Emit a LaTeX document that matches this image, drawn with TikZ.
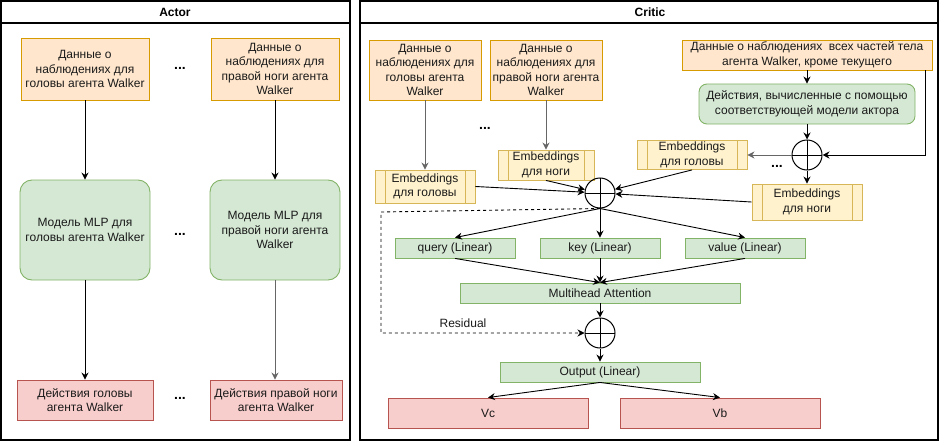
\documentclass[tikz,border=0pt]{standalone}
\usepackage{fontspec}
\setmainfont{Liberation Sans}
\usetikzlibrary{arrows.meta,calc}
\definecolor{obsfill}{HTML}{FFE6CC}\definecolor{obsdraw}{HTML}{D79B00}
\definecolor{grnfill}{HTML}{D5E8D4}\definecolor{grndraw}{HTML}{82B366}
\definecolor{redfill}{HTML}{F8CECC}\definecolor{reddraw}{HTML}{B85450}
\definecolor{yelfill}{HTML}{FFF2CC}\definecolor{yeldraw}{HTML}{D6B656}
\definecolor{txtcol}{HTML}{1A1A1A}
\definecolor{garrow}{HTML}{666666}
\tikzset{
  base/.style={draw, inner sep=0pt, align=center, font=\fontsize{12}{14.5}\selectfont, text=txtcol, line width=0.9pt},
  obsbox/.style={base, fill=obsfill, draw=obsdraw},
  grnbox/.style={base, fill=grnfill, draw=grndraw},
  grnround/.style={base, fill=grnfill, draw=grndraw, rounded corners=12pt},
  redbox/.style={base, fill=redfill, draw=reddraw},
  embbox/.style={base, fill=yelfill, draw=yeldraw,
     path picture={\draw[yeldraw, line width=0.9pt]
       ([xshift=10pt]path picture bounding box.north west) -- ([xshift=10pt]path picture bounding box.south west)
       ([xshift=-10pt]path picture bounding box.north east) -- ([xshift=-10pt]path picture bounding box.south east);}},
  plus/.style={circle, draw, minimum size=30pt, inner sep=0pt, line width=1pt,
     path picture={\draw[line width=1pt] (path picture bounding box.north) -- (path picture bounding box.south)
       (path picture bounding box.west) -- (path picture bounding box.east);}},
  arr/.style={-{Stealth[length=7pt,width=7pt]}, line width=0.9pt},
  garr/.style={arr, draw=garrow},
  dots/.style={font=\fontsize{14}{14}\selectfont\bfseries, inner sep=0pt},
  lbl/.style={font=\fontsize{12}{14.5}\selectfont, text=txtcol, inner sep=0pt},
  ttl/.style={font=\fontsize{12}{14}\selectfont\bfseries, inner sep=0pt},
}
\begin{document}
\begin{tikzpicture}[x=1pt,y=-1pt]
\useasboundingbox (0,0) rectangle (941,441);
% panels
\draw[line width=1.2pt] (1,1) rectangle (350,440);
\draw[line width=1.2pt] (1,23) -- (350,23);
\node[ttl] (tactor) at (175,12) {Actor};
\draw[line width=1.2pt] (360,1) rectangle (938,440);
\draw[line width=1.2pt] (360,23) -- (938,23);
\node[ttl] (tcritic) at (650,12) {Critic};

% ---------- Actor ----------
\node[obsbox, minimum width=128pt, minimum height=62pt] (ao1) at (85,69) {Данные о\\наблюдениях для\\головы агента Walker};
\node[obsbox, minimum width=128pt, minimum height=62pt] (ao2) at (275,69) {Данные о\\наблюдениях для\\правой ноги агента\\Walker};
\node[grnround, minimum width=130pt, minimum height=100pt] (am1) at (85,230) {Модель MLP для\\головы агента Walker};
\node[grnround, minimum width=130pt, minimum height=100pt] (am2) at (275,230) {Модель MLP для\\правой ноги агента\\Walker};
\node[redbox, minimum width=136pt, minimum height=40pt] (aa1) at (85,400) {Действия головы\\агента Walker};
\node[redbox, minimum width=132pt, minimum height=40pt] (aa2) at (276,400) {Действия правой ноги\\агента Walker};
\node[dots] (ad1) at (180,68) {...};
\node[dots] (ad2) at (180,234) {...};
\node[dots] (ad3) at (180,398) {...};
\draw[arr] (ao1.south) -- (am1.north);
\draw[arr] (ao2.south) -- (am2.north);
\draw[arr] (am1.south) -- (am1.south |- aa1.north);
\draw[garr] (am2.south) -- (am2.south |- aa2.north);

% ---------- Critic ----------
\node[obsbox, minimum width=112pt, minimum height=60pt] (co1) at (425,70) {Данные о\\наблюдениях для\\головы агента\\Walker};
\node[obsbox, minimum width=112pt, minimum height=60pt] (co2) at (546,70) {Данные о\\наблюдениях для\\правой ноги агента\\Walker};
\node[embbox, minimum width=100pt, minimum height=33pt] (ce1) at (425,186.5) {Embeddings\\для головы};
\node[embbox, minimum width=96pt, minimum height=30pt] (ce2) at (546,165) {Embeddings\\для ноги};
\node[plus] (s1) at (600,193) {};
\node[obsbox, minimum width=250pt, minimum height=30pt] (coa) at (807,55) {Данные о наблюдениях\ \ всех частей тела\\агента Walker, кроме текущего};
\node[grnround, rounded corners=8pt, minimum width=216pt, minimum height=40pt] (cac) at (807,104) {Действия, вычисленные с помощью\\соответствующей модели актора};
\node[plus] (s2) at (807,155) {};
\node[embbox, minimum width=110pt, minimum height=29pt] (ce3) at (692,155) {Embeddings\\для головы};
\node[embbox, minimum width=110pt, minimum height=36pt] (ce4) at (807,202) {Embeddings\\для ноги};
\node[dots] (cd1) at (485,128) {...};
\node[dots] (cd2) at (777,166) {...};
\node[grnbox, minimum width=120pt, minimum height=20pt] (q) at (455,248) {query (Linear)};
\node[grnbox, minimum width=120pt, minimum height=20pt] (k) at (600,248) {key (Linear)};
\node[grnbox, minimum width=120pt, minimum height=20pt] (v) at (745,248) {value (Linear)};
\node[grnbox, minimum width=280pt, minimum height=20pt] (ma) at (600,293) {Multihead Attention};
\node[plus] (s3) at (600,333) {};
\node[grnbox, minimum width=200pt, minimum height=20pt] (out) at (600,372) {Output (Linear)};
\node[redbox, minimum width=200pt, minimum height=30pt] (vc) at (488,413) {Vc};
\node[redbox, minimum width=200pt, minimum height=30pt] (vb) at (720,413) {Vb};
\node[lbl] (res) at (463,323) {Residual};

\draw[garr] (co1.south) -- (ce1.north);
\draw[garr] (co2.south) -- (ce2.north);
\draw[arr] (ce1.east) -- (s1);
\draw[arr] (ce2.south) -- (s1);
\draw[arr] (ce3.south) -- (s1);
\draw[arr] (ce4.west) -- (s1);
\draw[arr] (coa.south -| cac.north) -- (cac.north);
\draw[arr] (cac.south) -- (s2.north);
\coordinate (cr) at (925,155);
\draw[arr] (coa.south -| cr) -- (cr) -- (s2.east);
\draw[garr] (s2.west) -- (ce3.east);
\draw[arr] (s2.south) -- (ce4.north);
\draw[arr] (s1.south) -- (q.north);
\draw[arr] (s1.south) -- (k.north);
\draw[arr] (s1.south) -- (v.north);
\draw[arr] (q.south) -- (ma.north);
\draw[arr] (k.south) -- (ma.north);
\draw[arr] (v.south) -- (ma.north);
\draw[arr] (ma.south) -- (s3.north);
\coordinate (r1) at (381,212);
\coordinate (r2) at (381,333);
\draw[arr, dashed] (s1.south) -- (r1) -- (r2) -- (s3.west);
\draw[arr] (s3.south) -- (out.north);
\draw[arr] (out.south) -- (vc.north);
\draw[arr] (out.south) -- (vb.north);
\end{tikzpicture}
\end{document}
